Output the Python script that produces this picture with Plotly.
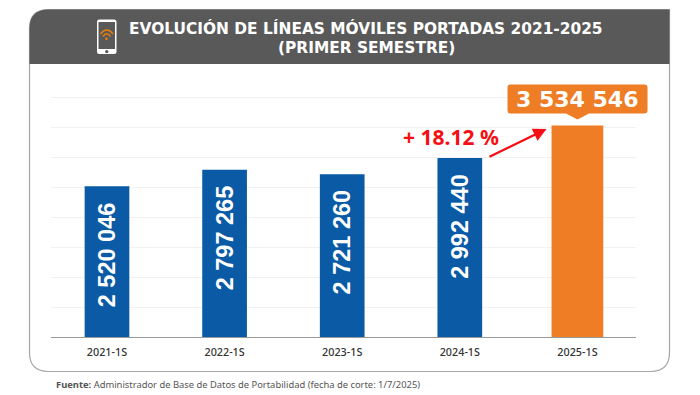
import plotly.graph_objects as go

categories = ["2021-1S", "2022-1S", "2023-1S", "2024-1S", "2025-1S"]
values = [2520046, 2797265, 2721260, 2992440, 3534546]
bar_labels = ["2 520 046", "2 797 265", "2 721 260", "2 992 440"]
highlight_label = "3 534 546"
growth_label = "+ 18.12 %"
title_lines = ["EVOLUCIÓN DE LÍNEAS MÓVILES PORTADAS 2021-2025", "(PRIMER SEMESTRE)"]
source_bold = "Fuente:"
source_text = "Administrador de Base de Datos de Portabilidad (fecha de corte: 1/7/2025)"

W, H = 700, 395
BLUE, ORANGE, DARK = "#0a5aa5", "#ee7d25", "#595959"
FONT = "Noto Sans"
WIDE = "DejaVu Sans"
ARIAL = "Liberation Sans"


def X(p):
    return p / W


def Y(p):
    return 1 - p / H


def path(points):
    """Path in paper coordinates; points: (cmd, x, y, ...) in pixels."""
    out = []
    for pt in points:
        cmd, coords = pt[0], pt[1:]
        s = cmd
        vals = []
        for i, c in enumerate(coords):
            vals.append(f"{X(c) if i % 2 == 0 else Y(c):.5f}")
        out.append(s + " " + " ".join(vals) if vals else s)
    return " ".join(out)


shapes = []
L, R, T, B, HB = 29.5, 669.5, 9.5, 371.5, 64
r = 19
# panel outline
shapes.append(dict(type="path", xref="paper", yref="paper", layer="below",
                   path=path([("M", L + r, T), ("L", R, T), ("L", R, B - r), ("Q", R, B, R - r, B),
                              ("L", L + r, B), ("Q", L, B, L, B - r), ("L", L, T + r),
                              ("Q", L, T, L + r, T), ("Z",)]),
                   fillcolor="white", line=dict(color="#a6a6a6", width=1.2)))
# header
shapes.append(dict(type="path", xref="paper", yref="paper", layer="below",
                   path=path([("M", L + r, T), ("L", R, T), ("L", R, HB), ("L", L, HB), ("L", L, T + r),
                              ("Q", L, T, L + r, T), ("Z",)]),
                   fillcolor=DARK, line=dict(width=0)))
# phone icon
shapes.append(dict(type="path", xref="paper", yref="paper",
                   path=path([("M", 99, 19.5), ("L", 114, 19.5), ("Q", 116.5, 19.5, 116.5, 22), ("L", 116.5, 51.5),
                              ("Q", 116.5, 54, 114, 54), ("L", 99, 54), ("Q", 97, 54, 97, 51.5), ("L", 97, 22),
                              ("Q", 97, 19.5, 99, 19.5), ("Z",)]),
                   fillcolor="white", line=dict(width=0)))
shapes.append(dict(type="rect", xref="paper", yref="paper", x0=X(98.5), x1=X(115), y0=Y(22), y1=Y(49),
                   fillcolor=DARK, line=dict(width=0)))
shapes.append(dict(type="circle", xref="paper", yref="paper", x0=X(105), x1=X(108.5), y0=Y(50), y1=Y(53.2),
                   fillcolor=DARK, line=dict(width=0)))
for x0, x1, y0, cy, w in [(100.5, 113, 34, 26, 1.7), (103, 110.5, 36.5, 31, 1.5)]:
    shapes.append(dict(type="path", xref="paper", yref="paper",
                       path=path([("M", x0, y0), ("Q", (x0 + x1) / 2, cy, x1, y0)]),
                       line=dict(color="#f07d0a", width=w)))
shapes.append(dict(type="circle", xref="paper", yref="paper", x0=X(105.2), x1=X(107.8), y0=Y(37.5), y1=Y(40),
                   fillcolor="#f07d0a", line=dict(width=0)))
# callout above the highlighted bar
cl, cr, ct, cb = 507.5, 647.5, 84.5, 113.5
rc = 3
shapes.append(dict(type="path", xref="paper", yref="paper",
                   path=path([("M", cl + rc, ct), ("L", cr - rc, ct), ("Q", cr, ct, cr, ct + rc), ("L", cr, cb - rc),
                              ("Q", cr, cb, cr - rc, cb), ("L", 589, cb), ("L", 577.5, 119.5), ("L", 566, cb),
                              ("L", cl + rc, cb), ("Q", cl, cb, cl, cb - rc), ("L", cl, ct + rc),
                              ("Q", cl, ct, cl + rc, ct), ("Z",)]),
                   fillcolor=ORANGE, line=dict(width=0)))

annotations = []
for i, line in enumerate(title_lines):
    annotations.append(dict(xref="paper", yref="paper", x=X(366), y=Y(29 + i * 19), text=f"<b>{line}</b>",
                            showarrow=False, xanchor="center", yanchor="middle",
                            font=dict(family=WIDE, size=15.4, color="white")))
for cat, v, lab in zip(categories, values, bar_labels):
    annotations.append(dict(xref="x", yref="y", x=cat, y=v, yshift=-68, text=f"<b>{lab}</b>", textangle=-90,
                            showarrow=False, xanchor="center", yanchor="middle",
                            font=dict(family=ARIAL, size=23.5, color="white")))
annotations.append(dict(xref="paper", yref="paper", x=X(577), y=Y(99), text=f"<b>{highlight_label}</b>",
                        showarrow=False, xanchor="center", yanchor="middle",
                        font=dict(family=WIDE, size=22, color="white")))
annotations.append(dict(xref="paper", yref="paper", x=X(451), y=Y(137), text=f"<b>{growth_label}</b>",
                        showarrow=False, xanchor="center", yanchor="middle",
                        font=dict(family=FONT, size=21, color="#f50f14")))
annotations.append(dict(xref="paper", yref="paper", axref="pixel", ayref="pixel",
                        x=X(546.5), y=Y(129), ax=-58.5, ay=28.5, text="", showarrow=True,
                        arrowhead=2, arrowsize=1.1, arrowwidth=2.4, arrowcolor="#f50f14"))
annotations.append(dict(xref="paper", yref="paper", x=X(54), y=Y(384), xanchor="left", yanchor="middle",
                        text=f"<b>{source_bold}</b> {source_text}", showarrow=False,
                        font=dict(family=FONT, size=9.4, color="#555555")))

fig = go.Figure(go.Bar(
    x=categories, y=values,
    width=[0.38, 0.38, 0.38, 0.38, 0.44],
    marker=dict(color=[BLUE, BLUE, BLUE, BLUE, ORANGE], line=dict(width=0)),
    hoverinfo="skip",
))
fig.update_layout(
    width=W, height=H, autosize=False, margin=dict(l=0, r=0, t=0, b=0),
    paper_bgcolor="white", plot_bgcolor="rgba(0,0,0,0)",
    showlegend=False, shapes=shapes, annotations=annotations,
    xaxis=dict(domain=[X(51), X(636)], range=[-0.476, 4.498], type="category",
               showline=True, linecolor="#9a9a9a", linewidth=1.2, ticks="", showgrid=False,
               ticklabelstandoff=5,
               tickfont=dict(family=FONT, size=10.8, color="#333333", weight=500), automargin=False),
    yaxis=dict(domain=[Y(337), Y(90)], range=[0, 4130000], tick0=0, dtick=500000, showticklabels=False,
               showgrid=True, gridcolor="#f2f2f2", gridwidth=1, zeroline=False, automargin=False),
)
fig.write_html("out.html", post_script="document.body.style.margin='0';",
               config={"displayModeBar": False})
